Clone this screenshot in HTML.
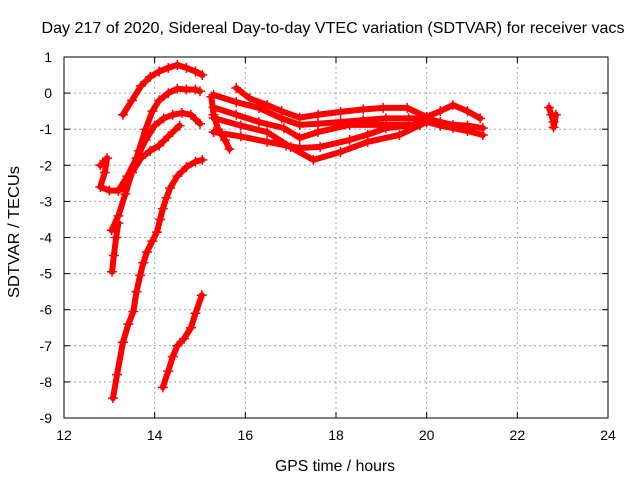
<!DOCTYPE html>
<html><head><meta charset="utf-8"><style>
body{margin:0;background:#fff;}
svg{display:block;font-family:"Liberation Sans",sans-serif;}
</style></head><body>
<svg id="chart" width="640" height="480" viewBox="0 0 640 480">
<rect width="640" height="480" fill="#fff"/>
<text x="333" y="33" font-size="16" text-anchor="middle" textLength="583" lengthAdjust="spacingAndGlyphs">Day 217 of 2020, Sidereal Day-to-day VTEC variation (SDTVAR) for receiver vacs</text>
<text x="335" y="471" font-size="16" text-anchor="middle" textLength="120" lengthAdjust="spacingAndGlyphs">GPS time / hours</text>
<text transform="translate(19,232) rotate(-90)" font-size="16" text-anchor="middle" textLength="132" lengthAdjust="spacingAndGlyphs">SDTVAR / TECUs</text>
<g id="grid"></g>
<g id="ticks"></g>
<g id="series"></g>
<rect x="64" y="57" width="544" height="361" fill="none" stroke="#000" stroke-width="1"/>
</svg>
<script>
const xTicks=[12,14,16,18,20,22,24];
const yTicks=[1,0,-1,-2,-3,-4,-5,-6,-7,-8,-9];
const trackA=[[13.3,-0.6],[13.5,-0.2],[13.7,0.2],[13.9,0.45],[14.1,0.6],[14.3,0.7],[14.5,0.78],[14.7,0.7],[14.9,0.6],[15.05,0.5]];
const trackB=[[13.05,-3.8],[13.2,-3.4],[13.35,-2.8],[13.5,-2.2],[13.65,-1.6],[13.8,-1.0],[13.95,-0.5],[14.1,-0.2],[14.3,0.0],[14.5,0.12],[14.7,0.1],[14.9,0.1],[15.0,0.05]];
const trackC=[[13.2,-2.7],[13.4,-2.3],[13.6,-1.8],[13.8,-1.3],[14.0,-0.9],[14.2,-0.7],[14.4,-0.6],[14.6,-0.55],[14.8,-0.6],[15.0,-0.85]];
const trackD=[[13.3,-2.6],[13.5,-2.2],[13.7,-1.8],[13.9,-1.6],[14.1,-1.45],[14.3,-1.2],[14.55,-0.9]];
const trackE=[[12.8,-2.0],[12.95,-1.8],[12.9,-2.2],[12.8,-2.6],[13.0,-2.7],[13.2,-2.7],[13.35,-2.6]];
const trackF=[[13.08,-8.45],[13.17,-7.8],[13.3,-6.9],[13.42,-6.4],[13.53,-6.05],[13.6,-5.5],[13.68,-5.05],[13.75,-4.7],[13.83,-4.4],[13.95,-4.1],[14.05,-3.85],[14.12,-3.5],[14.18,-3.2],[14.26,-2.9],[14.34,-2.63],[14.5,-2.3],[14.7,-2.05],[14.9,-1.9],[15.05,-1.85]];
const trackG=[[13.06,-4.95],[13.1,-4.5],[13.15,-4.0],[13.2,-3.6]];
const trackH=[[14.18,-8.15],[14.3,-7.7],[14.4,-7.3],[14.5,-7.0],[14.65,-6.8],[14.8,-6.5],[14.9,-6.1],[15.04,-5.6]];
const band1=[[15.8,0.14],[16.1,-0.15],[16.48,-0.33],[16.8,-0.5],[17.2,-0.68],[17.6,-0.6],[18.1,-0.52],[18.6,-0.45],[19.04,-0.41],[19.57,-0.41],[20.0,-0.66],[20.3,-0.5],[20.58,-0.33],[20.9,-0.5],[21.18,-0.7]];
const band2=[[15.3,-0.05],[15.8,-0.25],[16.3,-0.41],[16.8,-0.7],[17.2,-0.88],[17.6,-0.85],[18.1,-0.8],[18.6,-0.75],[19.1,-0.7],[19.6,-0.7],[20.0,-0.7],[20.3,-0.8],[20.58,-0.88],[20.9,-0.9],[21.24,-0.97]];
const band3=[[15.3,-0.69],[15.9,-0.9],[16.48,-1.08],[17.0,-1.5],[17.5,-1.85],[18.1,-1.63],[18.7,-1.35],[19.4,-1.16],[20.0,-0.8],[20.3,-0.9],[20.58,-0.97],[20.9,-1.05],[21.24,-1.16]];
const band4=[[15.3,-1.08],[15.9,-1.2],[16.48,-1.35],[16.9,-1.45],[17.2,-1.52],[17.65,-1.49],[18.3,-1.3],[18.7,-1.15],[19.1,-0.97],[19.6,-0.9],[20.0,-0.8]];
const band5=[[15.3,-0.4],[15.8,-0.6],[16.3,-0.8],[16.85,-0.97],[17.2,-1.24],[17.6,-1.08],[18.3,-0.88],[19.1,-0.88],[19.85,-0.88]];
const band6=[[15.25,-0.1],[15.3,-0.6],[15.4,-1.0],[15.55,-1.3],[15.65,-1.55]];
const band7=[[22.7,-0.4],[22.75,-0.6],[22.8,-0.8],[22.8,-0.95],[22.85,-0.6]];
const tracks=[trackA,trackB,trackC,trackD,trackE,trackF,trackG,trackH,band1,band2,band3,band4,band5,band6,band7];

const X=h=>64+(h-12)*544/12;
const Y=v=>57+(1-v)*361/10;
const NS="http://www.w3.org/2000/svg";
const grid=document.getElementById('grid'),ticks=document.getElementById('ticks'),ser=document.getElementById('series');
function mk(t,a,p){const e=document.createElementNS(NS,t);for(const k in a)e.setAttribute(k,a[k]);p.appendChild(e);return e;}
xTicks.forEach(t=>{
  const x=X(t);
  if(t>12&&t<24){const l=mk('line',{x1:x,x2:x,y1:57,y2:418,stroke:'#a0a0a0','stroke-dasharray':'2,3'},grid);
  
  }
  mk('line',{x1:x,x2:x,y1:418,y2:412,stroke:'#000'},ticks);
  mk('line',{x1:x,x2:x,y1:57,y2:63,stroke:'#000'},ticks);
  const tx=mk('text',{x:x,y:440,'font-size':14,'text-anchor':'middle'},ticks);tx.textContent=t;
  
  
});
yTicks.forEach(t=>{
  const y=Y(t);
  if(t<1&&t>-9){const l=mk('line',{x1:64,x2:608,y1:y,y2:y,stroke:'#a0a0a0','stroke-dasharray':'2,3'},grid);
  
  }
  mk('line',{x1:64,x2:70,y1:y,y2:y,stroke:'#000'},ticks);
  mk('line',{x1:608,x2:602,y1:y,y2:y,stroke:'#000'},ticks);
  const tx=mk('text',{x:52,y:y+5,'font-size':14,'text-anchor':'end'},ticks);tx.textContent=t;
  
  
});
tracks.forEach(tr=>{
  const pl=mk('polyline',{points:tr.map(p=>X(p[0])+','+Y(p[1])).join(' '),fill:'none',stroke:'#f00','stroke-width':6,'stroke-linejoin':'round','stroke-linecap':'round'},ser);
  
  
  tr.forEach(p=>{
    const x=X(p[0]),y=Y(p[1]);
    const m=mk('path',{d:`M${x-5},${y}H${x+5}M${x},${y-5}V${y+5}`,stroke:'#f00','stroke-width':1.5},ser);
    
    
  });
});
</script>
</body></html>
